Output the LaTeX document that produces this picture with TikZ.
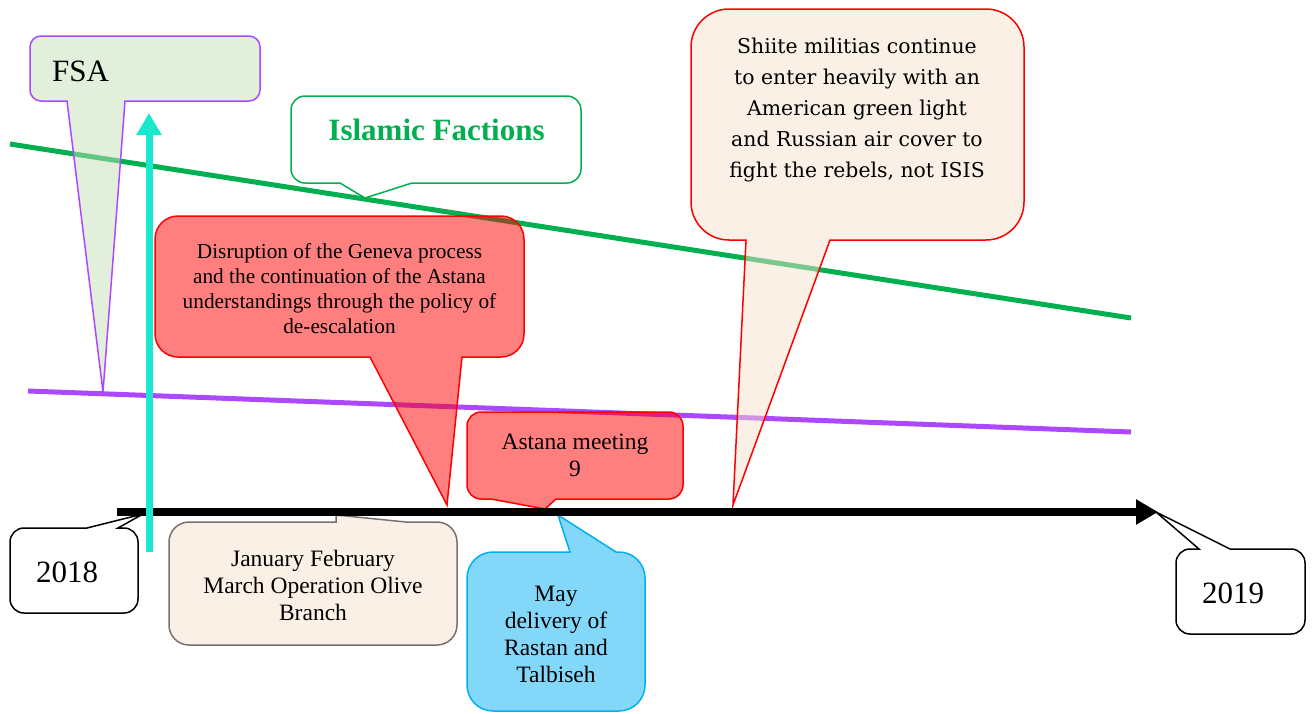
\documentclass[tikz,border=0pt]{standalone}
\usepackage{fontspec}
\setmainfont{Liberation Serif}
\newfontfamily\schfont{DejaVu Serif}
\usetikzlibrary{arrows.meta}
\definecolor{lgreen}{RGB}{0,176,80}
\definecolor{lpurple}{RGB}{172,72,255}
\definecolor{lcyan}{RGB}{26,232,204}
\definecolor{peachbase}{RGB}{247,225,205}
\definecolor{fsabase}{RGB}{197,223,181}
\definecolor{maybl}{RGB}{131,215,249}
\definecolor{mayborder}{RGB}{0,176,240}
\definecolor{janborder}{RGB}{118,113,113}
% callout with pointer on the bottom edge: style, L, T, R, B, base1, base2, tip, radius
\newcommand\calloutbot[9]{%
 \path[#1] (#6,#5) -- (#8) -- (#7,#5) -- ({#4-#9},#5)
  .. controls ({#4-0.448*#9},#5) and (#4,{#5-0.448*#9}) .. (#4,{#5-#9})
  -- (#4,{#3+#9}) .. controls (#4,{#3+0.448*#9}) and ({#4-0.448*#9},#3) .. ({#4-#9},#3)
  -- ({#2+#9},#3) .. controls ({#2+0.448*#9},#3) and (#2,{#3+0.448*#9}) .. (#2,{#3+#9})
  -- (#2,{#5-#9}) .. controls (#2,{#5-0.448*#9}) and ({#2+0.448*#9},#5) .. ({#2+#9},#5)
  -- cycle;}
% callout with pointer on the top edge
\newcommand\callouttop[9]{%
 \path[#1] (#6,#3) -- (#8) -- (#7,#3) -- ({#4-#9},#3)
  .. controls ({#4-0.448*#9},#3) and (#4,{#3+0.448*#9}) .. (#4,{#3+#9})
  -- (#4,{#5-#9}) .. controls (#4,{#5-0.448*#9}) and ({#4-0.448*#9},#5) .. ({#4-#9},#5)
  -- ({#2+#9},#5) .. controls ({#2+0.448*#9},#5) and (#2,{#5-0.448*#9}) .. (#2,{#5-#9})
  -- (#2,{#3+#9}) .. controls (#2,{#3+0.448*#9}) and ({#2+0.448*#9},#3) .. ({#2+#9},#3)
  -- cycle;}
\tikzset{
 bigtxt/.style={inner sep=0pt, font=\fontsize{31}{36}\selectfont},
 midtxt/.style={inner sep=0pt, align=center, font=\fontsize{23.5}{27}\selectfont},
 distxt/.style={inner sep=0pt, align=center, font=\fontsize{21.3}{25}\selectfont},
 shitxt/.style={inner sep=0pt, align=center, font=\schfont\fontsize{20.4}{31}\selectfont},
 redbox/.style={draw=red, line width=1.5pt, fill=red, fill opacity=0.5},
 peachbox/.style={line width=1.5pt, fill=peachbase, fill opacity=0.5},
 whitebox/.style={draw=black, line width=1.5pt, fill=white},
 trend/.style={line width=5pt},
}
\begin{document}
\begin{tikzpicture}[x=1pt,y=-1pt]
\useasboundingbox (0,0) rectangle (1314,713);
% coordinates
\coordinate (g0) at (10,144);
\coordinate (g1) at (1131,318);
\coordinate (p0) at (28,391);
\coordinate (p1) at (1131,432);
\coordinate (t0) at (117,512);
\coordinate (t1) at (1158,512);
\coordinate (c0) at (149,552);
\coordinate (c1) at (149,113);
\coordinate (tipFSA) at (103,392);
\coordinate (tipISL) at (365,198);
\coordinate (tipDIS) at (447,505);
\coordinate (tipAST) at (545,509);
\coordinate (tipSHI) at (733,505);
\coordinate (tip18) at (143,514);
\coordinate (tipJAN) at (336,515);
\coordinate (tipMAY) at (558,515);
\coordinate (tip19) at (1156,512);
% trend lines
\draw[trend, lgreen] (g0) -- (g1);
\draw[trend, lpurple] (p0) -- (p1);
% callouts
\calloutbot{draw=lpurple, line width=1.5pt, fill=fsabase, fill opacity=0.5}{30}{36}{260}{101}{67}{125}{tipFSA}{11}
\calloutbot{draw=lgreen, line width=1.5pt, fill=white}{291}{96}{581}{183}{340}{412}{tipISL}{14}
\calloutbot{redbox}{155}{216}{524}{357}{370}{462}{tipDIS}{23}
\calloutbot{redbox}{467}{412}{683}{499}{491}{556}{tipAST}{14}
\calloutbot{peachbox, draw=red}{691}{9}{1024}{240}{746}{830}{tipSHI}{38}
\callouttop{whitebox}{10}{528}{138}{613}{87}{118}{tip18}{14}
\callouttop{peachbox, draw=janborder}{169}{522}{457}{645}{336}{406}{tipJAN}{20}
\callouttop{draw=mayborder, line width=1.5pt, fill=maybl}{467}{552}{645}{711}{570}{616}{tipMAY}{26}
\callouttop{whitebox}{1176}{549}{1305}{634}{1199}{1230}{tip19}{14}
% timeline
\draw[line width=7.5pt, -{Triangle[length=22pt,width=24pt]}] (t0) -- (t1);
% cyan arrow
\draw[line width=7pt, lcyan, -{Triangle[length=22pt,width=24pt]}] (c0) -- (c1);
% texts
\node[bigtxt, anchor=west] (fsa) at (52,71) {FSA};
\node[bigtxt, font=\bfseries\fontsize{31}{36}\selectfont, text=lgreen] (isl) at (436.5,130) {Islamic Factions};
\node[distxt] (dis) at (339.5,289) {Disruption of the Geneva process\\and the continuation of the Astana\\understandings through the policy of\\de-escalation};
\node[midtxt] (ast) at (575,455) {Astana meeting\\9};
\node[shitxt] (shi) at (857,110) {Shiite militias continue\\to enter heavily with an\\American green light\\and Russian air cover to\\fight the rebels, not ISIS};
\node[bigtxt] (y18) at (67,572) {2018};
\node[midtxt] (jan) at (313,585) {January February\\March Operation Olive\\Branch};
\node[midtxt] (may) at (556,634) {May\\delivery of\\Rastan and\\Talbiseh};
\node[bigtxt] (y19) at (1233,593) {2019};
\end{tikzpicture}
\end{document}
